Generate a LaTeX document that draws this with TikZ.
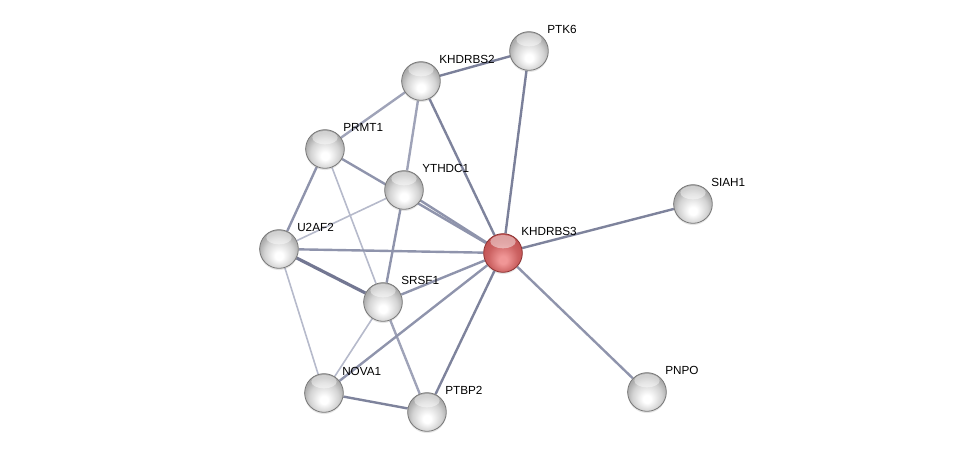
\documentclass[tikz,border=0pt]{standalone}
\usepackage{fontspec}
\setmainfont{Liberation Sans}
\usepackage{tikz}
\usetikzlibrary{backgrounds, shadows}

\definecolor{protrim}{RGB}{120,120,120}
\definecolor{qedge}{RGB}{140,50,50}
\definecolor{qlight}{RGB}{240,150,150}
\definecolor{qrim}{RGB}{195,85,85}
\definecolor{eddark}{RGB}{115,119,146}
\definecolor{edmid}{RGB}{143,148,172}
\definecolor{edlight}{RGB}{182,186,203}

\pgfdeclareradialshading{protball}{\pgfpoint{0bp}{-10bp}}{color(0bp)=(white); color(5bp)=(white); color(19bp)=(gray!35); color(26bp)=(gray!65); color(50bp)=(gray!65)}
\pgfdeclareradialshading{queryball}{\pgfpoint{0bp}{-10bp}}{color(0bp)=(qlight); color(5bp)=(qlight); color(19bp)=(qrim!80!qlight); color(26bp)=(qrim); color(50bp)=(qrim)}

\begin{document}
\begin{tikzpicture}[x=0.75pt,y=-0.75pt,
  prot/.style={circle,minimum size=29pt,inner sep=0pt,draw=protrim,line width=0.6pt,
    shade,shading=protball,
    drop shadow={shadow xshift=0pt,shadow yshift=-1.3pt,opacity=.2},
    path picture={\fill[white,opacity=.45] ([yshift=-6pt]path picture bounding box.north) ellipse [x radius=9.5pt,y radius=5pt];}},
  query/.style={prot,draw=qedge,shading=queryball},
  lbl/.style={anchor=west,inner sep=0pt,font=\fontsize{8.8}{10}\selectfont},
  edge/.style={line width=1.8pt,draw=edmid},
  thin/.style={line width=1.2pt,draw=edlight},
  strong/.style={line width=2.4pt,draw=eddark}]
\useasboundingbox (0,0) rectangle (976,457);

% proteins
\foreach \n/\x/\y/\t in {ptk6/529/51/PTK6, khdrbs2/421/81/KHDRBS2, prmt1/325/149/PRMT1,
    ythdc1/404/190/YTHDC1, siah1/693/204/SIAH1, u2af2/279/249/U2AF2,
    srsf1/383/302/SRSF1, nova1/324/393/NOVA1, ptbp2/427/412/PTBP2, pnpo/647/392/PNPO} {
  \node[prot] (\n) at (\x,\y) {};
  \node[lbl] (\n-t) at (\x+18,\y-22) {\t};
}
\node[query] (khdrbs3) at (503,253) {};
\node[lbl] (khdrbs3-t) at (521,231) {KHDRBS3};

% interactions
\begin{scope}[on background layer]
  \draw[edge,draw=eddark!70!edmid] (khdrbs2) -- (ptk6);
  \draw[edge,draw=eddark!70!edmid] (ptk6) -- (khdrbs3);
  \draw[edge,draw=eddark!60!edmid] (khdrbs2) -- (khdrbs3);
  \draw[edge,draw=edmid!60!edlight] (khdrbs2) -- (prmt1);
  \draw[edge,draw=edmid!60!edlight] (khdrbs2) -- (ythdc1);
  \draw[edge] (prmt1) -- (khdrbs3);
  \draw[edge] (ythdc1) -- (khdrbs3);
  \draw[edge] (prmt1) -- (u2af2);
  \draw[thin] (prmt1) -- (srsf1);
  \draw[thin] (ythdc1) -- (u2af2);
  \draw[edge] (ythdc1) -- (srsf1);
  \draw[edge] (u2af2) -- (khdrbs3);
  \draw[strong] (u2af2) -- (srsf1);
  \draw[thin] (u2af2) -- (nova1);
  \draw[edge] (srsf1) -- (khdrbs3);
  \draw[thin] (srsf1) -- (nova1);
  \draw[edge,draw=edmid!60!edlight] (srsf1) -- (ptbp2);
  \draw[edge] (nova1) -- (khdrbs3);
  \draw[edge,draw=eddark!60!edmid] (nova1) -- (ptbp2);
  \draw[edge,draw=eddark!60!edmid] (ptbp2) -- (khdrbs3);
  \draw[edge,draw=eddark!60!edmid] (khdrbs3) -- (siah1);
  \draw[edge] (khdrbs3) -- (pnpo);
\end{scope}
\end{tikzpicture}
\end{document}
